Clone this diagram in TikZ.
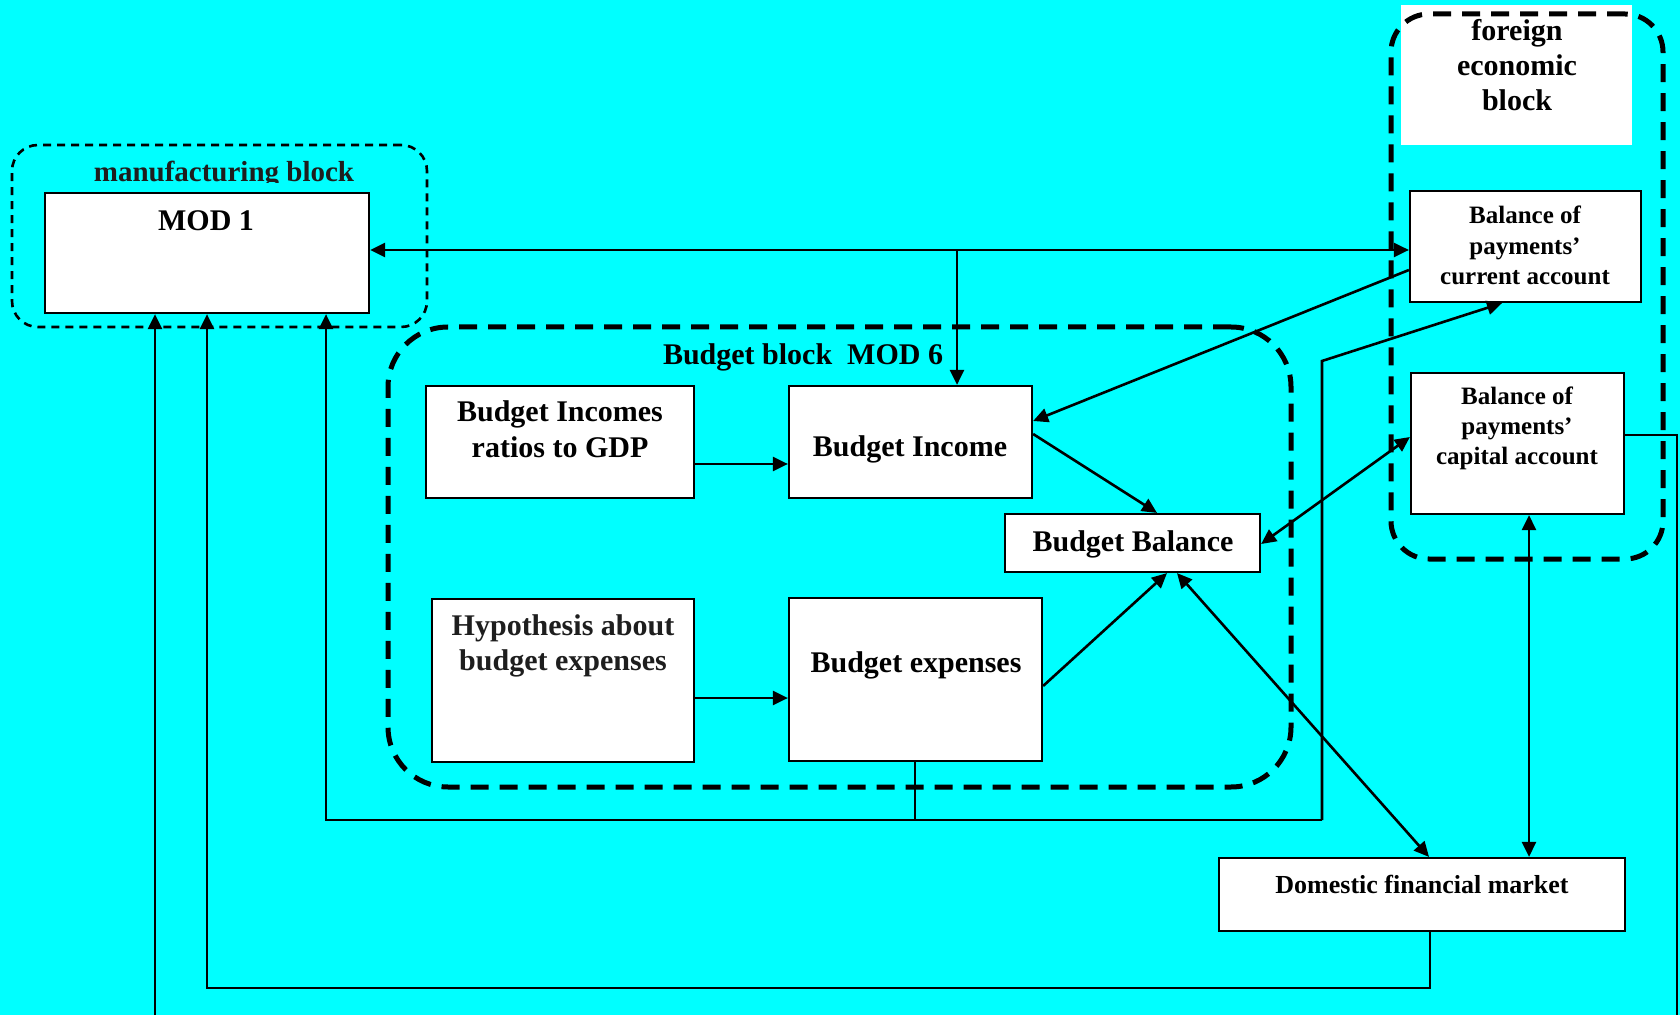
\documentclass[tikz,border=0pt]{standalone}
\usepackage{fontspec}
\setmainfont{Liberation Serif}
\usetikzlibrary{arrows.meta,fit}
\definecolor{bgcyan}{RGB}{0,255,255}
\definecolor{inkgray}{RGB}{30,30,30}
\begin{document}
\begin{tikzpicture}[x=0.5pt,y=-0.5pt,
  box/.style={draw=black, line width=1.1pt, fill=white, inner sep=0pt},
  bigtxt/.style={font=\fontsize{15}{18}\selectfont\bfseries, anchor=base, inner sep=0pt, text=black},
  midtxt/.style={font=\fontsize{13}{16}\selectfont\bfseries, anchor=base, inner sep=0pt, text=black},
  smalltxt/.style={font=\fontsize{12.5}{15}\selectfont\bfseries, anchor=base, inner sep=0pt, text=black},
  tip/.tip={Triangle[length=7.5pt,width=7pt]},
  conn/.style={line width=1.3pt, -tip},
  dconn/.style={line width=1.3pt, tip-tip},
  plain/.style={line width=1.1pt},
  thickframe/.style={draw=black, line width=2.5pt, dash pattern=on 9pt off 5.5pt, inner sep=0pt},
  thinframe/.style={draw=black, line width=1.3pt, dash pattern=on 4pt off 3pt, inner sep=0pt, rounded corners=13pt}
]
\useasboundingbox (0,0) rectangle (1680,1015);
\fill[bgcyan] (0,0) rectangle (1680,1015);

% group frames
\node[thinframe, fit={(12,145) (427,327)}] (mfgframe) {};
\node[thickframe, rounded corners=30pt, fit={(388,327) (1291,787)}] (budframe) {};
\node[fill=white, inner sep=0pt, fit={(1401,5) (1632,145)}] (forlabel) {};
\node[thickframe, rounded corners=19pt, fit={(1391,14) (1663,559)}] (forframe) {};

% manufacturing label (clipped by the box below it)
\begin{scope}
  \clip (0,140) rectangle (1680,183);
  \node[bigtxt, text=inkgray, font=\fontsize{14.5}{18}\selectfont\bfseries] (mfgtxt) at (224,182) {manufacturing block};
\end{scope}

% boxes
\node[box, fit={(45,193) (369,313)}] (mod1) {};
\node[box, fit={(426,386) (694,498)}] (ratio) {};
\node[box, fit={(789,386) (1032,498)}] (inc) {};
\node[box, fit={(1005,514) (1260,572)}] (bal) {};
\node[box, fit={(432,599) (694,762)}] (hyp) {};
\node[box, fit={(789,598) (1042,761)}] (exp) {};
\node[box, fit={(1410,191) (1641,302)}] (cur) {};
\node[box, fit={(1411,373) (1624,514)}] (cap) {};
\node[box, fit={(1219,858) (1625,931)}] (dom) {};

% connector coordinates
\coordinate (j1) at (957,250);
\coordinate (rt) at (1677,435);
\coordinate (rb) at (1677,1015);
\coordinate (d1) at (1430,988);
\coordinate (d2) at (207,988);
\coordinate (e1) at (915,820);
\coordinate (e2) at (1322,820);
\coordinate (e3) at (326,820);
\coordinate (e4) at (1322,361);
\coordinate (lb) at (155,1015);

% connectors
\draw[conn] (ratio.east |- 0,464) -- (inc.west |- 0,464);
\draw[conn] (hyp.east |- 0,698) -- (exp.west |- 0,698);
\draw[dconn] (mod1.east |- j1) -- (cur.west |- j1);
\draw[conn] (j1) -- (inc.north -| j1);
\draw[conn] (cur.west |- 0,270) -- (inc.east |- 0,421);
\draw[conn] (inc.east |- 0,434) -- (bal.north -| 1157,0);
\draw[conn] (exp.east |- 0,686) -- (bal.south -| 1167,0);
\draw[dconn] (bal.east |- 0,544) -- (cap.west |- 0,437);
\draw[dconn] (bal.south -| 1177,0) -- (dom.north -| 1429,0);
\draw[dconn] (cap.south -| 1529,0) -- (dom.north -| 1529,0);
\draw[plain] (cap.east |- rt) -- (rt) -- (rb);
\draw[conn] (dom.south -| d1) -- (d1) -- (d2) -- (mod1.south -| d2);
\draw[plain] (exp.south -| e1) -- (e1);
\draw[conn] (e2) -- (e3) -- (mod1.south -| e3);
\draw[conn] (e2) -- (e4) -- (cur.south -| 1502,0);
\draw[conn] (lb) -- (mod1.south -| lb);

% texts
\node[bigtxt] (mod1txt) at (206,231) {MOD 1};
\node[bigtxt] (budtitle) at (803,365) {Budget block\enspace MOD 6};
\node[bigtxt] (ratio1) at (560,422) {Budget Incomes};
\node[bigtxt] (ratio2) at (560,458) {ratios to GDP};
\node[bigtxt] (inctxt) at (910,457) {Budget Income};
\node[bigtxt] (baltxt) at (1133,552) {Budget Balance};
\node[bigtxt, text=inkgray] (hyp1) at (563,635) {Hypothesis about};
\node[bigtxt, text=inkgray] (hyp2) at (563,670) {budget expenses};
\node[bigtxt] (exptxt) at (916,672) {Budget expenses};
\node[bigtxt] (for1) at (1517,41) {foreign};
\node[bigtxt] (for2) at (1517,76) {economic};
\node[bigtxt] (for3) at (1517,111) {block};
\node[smalltxt] (cur1) at (1525,224) {Balance of};
\node[smalltxt] (cur2) at (1525,255) {payments’};
\node[smalltxt] (cur3) at (1525,285) {current account};
\node[smalltxt] (cap1) at (1517,405) {Balance of};
\node[smalltxt] (cap2) at (1517,435) {payments’};
\node[smalltxt] (cap3) at (1517,465) {capital account};
\node[midtxt] (domtxt) at (1422,893) {Domestic financial market};
\end{tikzpicture}
\end{document}
